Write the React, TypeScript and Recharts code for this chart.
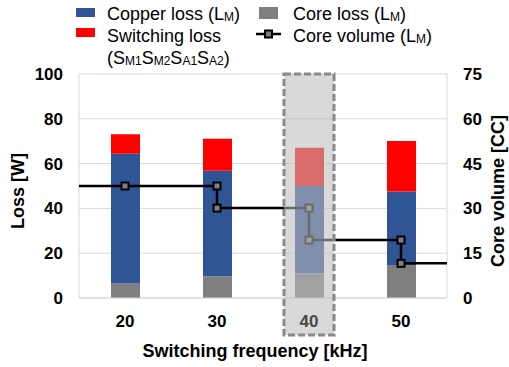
import {
  ComposedChart,
  Bar,
  Scatter,
  XAxis,
  YAxis,
  CartesianGrid,
  ReferenceArea,
} from 'recharts';

const FREQUENCIES = ['20', '30', '40', '50'];
const CORE_LOSS = [6.5, 9.7, 11.0, 14.7];
const COPPER_LOSS = [57.9, 47.1, 39.0, 32.8];
const SWITCHING_LOSS = [8.7, 14.3, 17.1, 22.6];
const CORE_VOLUME = [37.5, 30.1, 19.4, 11.6];
const LOSS_TICKS = [0, 20, 40, 60, 80, 100];
const VOLUME_TICKS = [0, 15, 30, 45, 60, 75];
const HIGHLIGHT = '40';

const FONT = '"Liberation Sans", Arial, sans-serif';
const BLUE = '#2f5597';
const RED = '#ff0000';
const GRAY = '#7f7f7f';
const GRID = '#d9d9d9';

const data = FREQUENCIES.map((f, i) => ({
  freq: f,
  core: CORE_LOSS[i],
  copper: COPPER_LOSS[i],
  switching: SWITCHING_LOSS[i],
}));

// step line on a numeric axis: category i sits at i + 0.5
const stepPoints: { x: number; v: number; end?: boolean }[] = [];
stepPoints.push({ x: 0, v: CORE_VOLUME[0], end: true });
CORE_VOLUME.forEach((v, i) => {
  if (i > 0) stepPoints.push({ x: i + 0.5, v: CORE_VOLUME[i - 1] });
  stepPoints.push({ x: i + 0.5, v });
});
stepPoints.push({ x: FREQUENCIES.length, v: CORE_VOLUME[CORE_VOLUME.length - 1], end: true });

const hi = FREQUENCIES.indexOf(HIGHLIGHT) + 0.5;

const Marker = (props: any) => {
  const { cx, cy, payload } = props;
  if (payload?.end) return <g />;
  return <rect x={cx - 3.5} y={cy - 3.5} width={7} height={7} fill={GRAY} stroke="#000" strokeWidth={2} />;
};

const HighlightBox = (props: any) => {
  const { x, y, width, height } = props;
  return (
    <rect
      x={x}
      y={y}
      width={width}
      height={height + 37}
      fill="rgba(188,188,188,0.57)"
      stroke="#898989"
      strokeWidth={3}
      strokeDasharray="7 3"
    />
  );
};

const XTick = (props: any) => {
  const { x, y, payload } = props;
  return (
    <text x={x} y={y} dy={12} textAnchor="middle" fontFamily={FONT} fontSize={17} fontWeight="bold"
      fill={payload.value === HIGHLIGHT ? '#484848' : '#000'}>
      {payload.value}
    </text>
  );
};

const Sub = ({ children }: { children: string }) => (
  <tspan fontSize={12} dy={1}>{children}</tspan>
);

function LegendBlock() {
  const t = { fontFamily: FONT, fontSize: 18, fill: '#000' };
  return (
    <svg width={509} height={74} style={{ position: 'absolute', left: 0, top: 0 }}>
      <rect x={76} y={8} width={19} height={9} fill={BLUE} />
      <text x={107} y={20} {...t}>Copper loss (L<Sub>M</Sub><tspan dy={-1}>)</tspan></text>
      <rect x={76} y={28} width={19} height={9} fill={RED} />
      <text x={107} y={42} {...t}>Switching loss</text>
      <text x={107} y={64} {...t}>
        (S<Sub>M1</Sub><tspan dy={-1}>S</tspan><Sub>M2</Sub><tspan dy={-1}>S</tspan><Sub>A1</Sub>
        <tspan dy={-1}>S</tspan><Sub>A2</Sub><tspan dy={-1}>)</tspan>
      </text>
      <rect x={259} y={7} width={19} height={12} fill={GRAY} />
      <text x={293} y={20} {...t}>Core loss (L<Sub>M</Sub><tspan dy={-1}>)</tspan></text>
      <line x1={256} x2={281} y1={34} y2={34} stroke="#000" strokeWidth={2.5} />
      <rect x={265} y={30.5} width={7} height={7} fill={GRAY} stroke="#000" strokeWidth={2} />
      <text x={293} y={42} {...t}>Core volume (L<Sub>M</Sub><tspan dy={-1}>)</tspan></text>
    </svg>
  );
}

export default function App() {
  const tick = { fontFamily: FONT, fontSize: 17, fontWeight: 'bold', fill: '#000' };
  return (
    <div style={{ position: 'absolute', left: 0, top: 0, width: 509, height: 367, background: '#fff' }}>
      <ComposedChart width={509} height={367} data={data} margin={{ top: 74, right: 0, bottom: 0, left: 0 }}>
        <CartesianGrid vertical={false} stroke={GRID} />
        <XAxis
          dataKey="freq"
          height={69}
          axisLine={{ stroke: GRID }}
          tickLine={false}
          tickSize={0}
          tickMargin={17}
          tick={<XTick />}
          label={({ viewBox }: any) => (
            <text x={viewBox.x + viewBox.width / 2 - 8} y={357} textAnchor="middle" fontFamily={FONT}
              fontSize={18} fontWeight="bold">Switching frequency [kHz]</text>
          )}
        />
        <XAxis xAxisId="step" type="number" dataKey="x" domain={[0, FREQUENCIES.length]} hide allowDataOverflow />
        <YAxis
          width={79}
          domain={[0, 100]}
          ticks={LOSS_TICKS}
          axisLine={{ stroke: GRID }}
          tickLine={false}
          tickSize={0}
          tickMargin={16}
          tick={tick}
          label={({ viewBox }: any) => (
            <text x={24} y={viewBox.y + viewBox.height / 2 + 5} transform={`rotate(-90 24 ${viewBox.y + viewBox.height / 2 + 5})`}
              textAnchor="middle" fontFamily={FONT} fontSize={18} fontWeight="bold">Loss [W]</text>
          )}
        />
        <YAxis
          yAxisId="vol"
          orientation="right"
          width={62}
          domain={[0, 75]}
          ticks={VOLUME_TICKS}
          axisLine={{ stroke: GRID }}
          tickLine={false}
          tickSize={0}
          tickMargin={16}
          tick={tick}
          label={({ viewBox }: any) => (
            <text x={504} y={viewBox.y + viewBox.height / 2 + 5} transform={`rotate(-90 504 ${viewBox.y + viewBox.height / 2 + 5})`}
              textAnchor="middle" fontFamily={FONT} fontSize={18} fontWeight="bold">Core volume [CC]</text>
          )}
        />
        <Bar dataKey="core" stackId="loss" fill={GRAY} barSize={29} isAnimationActive={false} />
        <Bar dataKey="copper" stackId="loss" fill={BLUE} barSize={29} isAnimationActive={false} />
        <Bar dataKey="switching" stackId="loss" fill={RED} barSize={29} isAnimationActive={false} />
        <Scatter
          xAxisId="step"
          yAxisId="vol"
          data={stepPoints}
          dataKey="v"
          line={{ stroke: '#000', strokeWidth: 2.5 }}
          shape={Marker}
          isAnimationActive={false}
        />
        <ReferenceArea
          xAxisId="step"
          x1={hi - 0.272}
          x2={hi + 0.272}
          y1={0}
          y2={100}
          ifOverflow="visible"
          shape={HighlightBox}
          zIndex={1500}
        />
      </ComposedChart>
      <LegendBlock />
    </div>
  );
}
